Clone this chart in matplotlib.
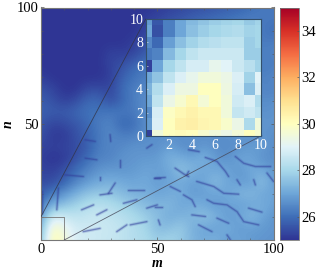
import numpy as np
import matplotlib
matplotlib.use("Agg")
import matplotlib.pyplot as plt
from matplotlib.colors import LinearSegmentedColormap

plt.rcParams['font.family'] = ['Liberation Serif', 'DejaVu Serif']
W, H = 318, 273

m_nodes = list(range(0, 105, 5))
n_nodes = list(range(100, -5, -5))

# main map, rows n = 100 ... 0, columns m = 0 ... 100 (step 5)
grid_values = [
 [25,25,25,25,25,25,25,25,25,25,25.1,25.2,25.3,25.4,25.5,25.6,25.7,25.8,26,26.2,26.2],
 [25,25,25,25,25,25,25,25,25,25.2,25.3,25.5,25.6,25.8,25.9,26,26.1,26.2,26.3,26.2,26.2],
 [25,25,25,25,25,25,25,25,25,25.3,25.5,25.6,25.8,25.9,26,26.1,26.2,26.3,26.3,26.2,26.0],
 [25,25,25,25,25,25,25,25,25.2,25.5,25.7,25.8,25.9,26,26.1,26.2,26.3,26.4,26.4,26.2,26.3],
 [25,25,25,25,25,25,25.3,25.2,25.3,25.7,25.9,26,26,26.1,26.2,26.3,26.4,26.4,26.5,26.3,26.4],
 [25,25,25,25,25,25,25.3,25.5,25.9,26.2,26.2,26.2,26.2,26.3,26.3,26.4,26.4,26.5,26.5,26.2,26.3],
 [25.2,25,25,25,25,25,25.2,25.8,26.1,26.3,26.3,26.3,26.3,26.4,26.4,26.5,26.5,26.5,26.6,26.3,26.5],
 [25.5,25.3,25,25,25.4,25.4,25.3,26,26.3,26.5,26.4,26.4,26.4,26.5,26.5,26.5,26.6,26.6,26.6,26.4,26.4],
 [25.7,25.5,25.2,25.4,25.9,25.9,25.4,25.9,26.3,26.6,26.5,26.5,26.5,26.6,26.6,26.6,26.6,26.7,26.7,26.5,26.6],
 [25.8,25.7,25.7,25.9,26.1,26.1,26.2,26.2,26.2,26.6,26.6,26.6,26.6,26.7,26.7,26.7,26.7,26.8,26.8,26.6,26.7],
 [25.6,25.3,25.4,25.6,25.9,26.3,26.4,25.8,26,26.6,26.7,26.7,26.7,26.8,26.8,26.8,26.8,26.9,26.9,26.7,26.7],
 [25.5,25.1,25.1,25.5,25.8,26.2,26.5,26.3,26.3,26.6,26.6,26.6,26.6,26.7,26.6,26.6,26.6,26.7,26.6,26.7,26.6],
 [25.3,25.2,25.3,25.4,25.7,26.3,26.4,26.5,26.7,26.6,26.6,26.9,26.6,26.5,26.8,26.6,26.5,26.7,26.8,26.9,26.5],
 [25.2,25,25.1,25.5,26,26.4,26.4,26.7,26.7,26.8,26.8,27.3,27.2,27.0,27.3,26.8,26.6,27.0,27.0,26.6,26.6],
 [25.3,25.2,25.5,26,26.4,26.7,26.8,26.7,26.8,27.0,26.9,27.0,27.6,27.3,27.0,27.1,27.0,26.7,27.1,27.1,26.7],
 [25.4,25.4,25.8,26.4,26.8,27.1,27.2,27.1,27.0,27.1,26.8,27.0,27.1,26.9,27.0,27.5,27.0,26.9,26.8,27.6,26.8],
 [25.7,26.2,26.7,27.2,27.6,27.7,27.6,27.4,27.2,27.2,27.0,27.1,27.2,26.8,26.9,27.0,27.0,27.3,27.4,27.0,27.0],
 [26.2,27.2,27.6,27.9,28.2,28.3,28.2,27.9,27.7,27.4,27.3,27.4,27.0,27.2,27.1,26.8,27.0,26.9,27.0,27.2,26.9],
 [26.8,28.8,28.6,28.4,28.5,28.6,28.4,28.3,28.1,27.8,27.5,27.1,27.3,27.3,27.6,27.3,26.8,27.0,27.4,27.0,26.7],
 [27.1,30.0,29.3,28.7,28.7,28.6,28.6,28.4,28.2,28.0,27.4,27.5,27.8,27.2,27.0,26.9,27.2,26.8,26.9,26.8,26.7],
 [27.5,30.3,29.6,28.8,28.7,28.6,28.5,28.4,28.2,28.1,27.8,28.0,27.7,27.3,27.1,27.3,26.8,27.0,26.8,26.7,26.7],
]

inset_m = list(range(11))
inset_n = list(range(10, -1, -1))
# inset map, rows n = 10 ... 0, columns m = 0 ... 10
inset_values = [
 [26.8,25.6,26.3,27.0,27.4,27.6,27.8,27.9,28.0,27.7,27.9],
 [27.0,25.5,26.3,27.0,27.5,27.8,28.0,28.1,28.2,27.9,28.0],
 [26.5,25.9,26.9,27.5,27.9,28.2,28.3,28.4,28.4,27.8,28.0],
 [26.2,26.4,27.4,28.0,28.4,28.6,28.6,28.6,28.6,27.8,27.8],
 [25.2,27.0,28.0,28.4,28.8,28.8,29.2,29.0,28.6,28.3,27.9],
 [27.0,27.6,28.4,28.9,29.2,29.5,29.5,29.3,28.9,27.9,29.0],
 [27.3,28.2,28.9,29.4,29.4,30.0,30.0,29.4,28.8,27.5,28.9],
 [27.0,28.4,29.3,29.7,30.2,29.6,30.0,29.5,28.7,28.9,28.2],
 [26.6,28.8,29.9,30.2,30.4,30.2,30.2,29.5,28.5,28.7,28.4],
 [26.8,28.9,30.0,30.4,30.5,30.3,30.2,29.8,29.3,28.1,29.5],
 [25.2,29.5,30.0,30.1,30.0,29.7,29.5,29.3,29.6,30.0,29.7],
]

# low-value ridges of the map: (m values, n values)
ridges = [
 ([63.5,68],[38.8,38]), ([70.7,75.7,79.3,80.7],[35.5,33.8,29.5,27.3]),
 ([84.3,85.7],[25.9,23.7]), ([83.6,87.2,92.2,98.7],[35.9,33,31.6,31.6]),
 ([91.5,92.2],[25.9,23.7]), ([97.2,100],[28.8,25.2]),
 ([57.7,62,63.5],[30.9,28,27.3]), ([62.7,63.5],[28,29.5]), ([49.1,53.4],[26.6,26.9]),
 ([55.6,59.9],[23,20.9]), ([61.3,64.9,66.3],[19.4,17.3,14.4]),
 ([67,74.3,78.6,85],[25.2,23,20.1,19.7]),
 ([71.4,74.3,80,84.3,87.2,93.6],[17.3,15.8,15.1,12.2,7.9,6.5]),
 ([89.3,95],[13.7,12]), ([49.1,52],[14.4,14.4]), ([50.5,51.2],[8.6,6.5]),
 ([64.9,70.7],[10.8,10.1]), ([75.7,80.7],[9.4,7.2]), ([67.8,73.5],[6.5,3.6]),
 ([80,81.5],[2.2,0]),
 ([19,23.3],[43.1,42.4]), ([29.7,30],[45.3,42.4]), ([19,24],[35.2,34.5]),
 ([34.1,34.1],[34.5,31.6]), ([10.3,18.2],[28,27.3]), ([25.4,25.4],[27.3,25.9]),
 ([31.9,29],[24.5,20.1]), ([37.6,44.1],[21.6,21.6]), ([48.4,51.3],[26.6,26.6]),
 ([7.5,6.8],[22.3,13]), ([0.3,0.3],[20.9,11.5]), ([47.7,45.5],[41,39.5]),
 ([17.5,22.6],[13,15.1]), ([25.4,30.5],[19.4,20.1]), ([24,28.3],[10.8,13]),
 ([35.5,41.2],[15.8,17.3]), ([38.4,45.5],[6.5,7.9]), ([18.2,25.4],[3.6,5]),
 ([32.6,36.9],[3.6,6.5]), ([45.5,50],[13.7,15.1]),
]

cmap = LinearSegmentedColormap.from_list('ref', [
    '#2f3594', '#3f6fb8', '#6ea6d8', '#a8d8ea', '#e2f3f8', '#ffffbf',
    '#fee090', '#fdae61', '#f46d43', '#d73027', '#a50026'])

fig = plt.figure(figsize=(W/100, H/100), dpi=100)
def box(l, t, r, b):
    return [l/W, 1-b/H, (r-l)/W, (b-t)/H]

ax = fig.add_axes(box(41, 7.5, 273.5, 240))
im = ax.imshow(grid_values, cmap=cmap, vmin=25, vmax=35, origin='upper',
               extent=(m_nodes[0]-2.5, m_nodes[-1]+2.5, n_nodes[-1]-2.5, n_nodes[0]+2.5),
               interpolation='bicubic', aspect='auto')
for rm, rn in ridges:
    ax.plot(rm, rn, color='#33409c', lw=2.4, alpha=0.16, solid_capstyle='round', zorder=2)
    ax.plot(rm, rn, color='#33409c', lw=1.0, alpha=0.5, solid_capstyle='round', zorder=2)
ax.set_xlim(0, 100); ax.set_ylim(0, 100)
ax.set_xticks([0, 50, 100]); ax.set_yticks([50, 100])
ax.set_xticks(range(0, 101, 10), minor=True); ax.set_yticks(range(0, 101, 10), minor=True)
ax.tick_params(which='major', direction='in', length=2.5, width=0.5, color='#555555',
               labelsize=10.5, pad=2, top=True, right=True)
ax.tick_params(which='minor', direction='in', length=1.2, width=0.4, color='#555555', top=True, right=True)
for s in ax.spines.values():
    s.set_color('#777777'); s.set_linewidth(0.8)
ax.set_xlabel('m', fontsize=10, style='italic', weight='bold', labelpad=1)
ax.set_ylabel('n', fontsize=10, style='italic', weight='bold', labelpad=1)

# zoom rectangle and connectors
ax.plot([0, 10, 10, 0, 0], [0, 0, 10, 10, 0], color='#777777', lw=0.6, zorder=3, clip_on=False)
ax.plot([0, 45], [10, 95], color='#333344', lw=0.6, alpha=0.8, zorder=3)
ax.plot([10, 95], [0, 45], color='#444455', lw=0.6, alpha=0.8, zorder=3)

axi = fig.add_axes(box(146, 19, 261, 136))
axi.imshow(inset_values, cmap=cmap, vmin=25, vmax=35, origin='upper',
           extent=(inset_m[0]-0.5, inset_m[-1]+0.5, inset_n[-1]-0.5, inset_n[0]+0.5),
           interpolation='nearest', aspect='auto')
axi.set_xlim(0, 10); axi.set_ylim(0, 10)
axi.set_xticks(range(2, 11, 2)); axi.set_yticks(range(0, 11, 2))
axi.tick_params(direction='in', length=1.5, width=0.4, color='#e8e8e8', labelsize=10,
                labelcolor='white', pad=2)
for s in axi.spines.values():
    s.set_color('#34506a'); s.set_linewidth(0.8)

cax = fig.add_axes(box(279.5, 7.5, 299, 240))
cb = fig.colorbar(im, cax=cax)
cb.set_ticks([26, 28, 30, 32, 34])
cb.ax.tick_params(direction='in', length=1.5, width=0.5, color='#555555', labelsize=10.5, pad=1.5)
cb.outline.set_edgecolor('#777777'); cb.outline.set_linewidth(0.6)

fig.savefig('out.png', dpi=100)
